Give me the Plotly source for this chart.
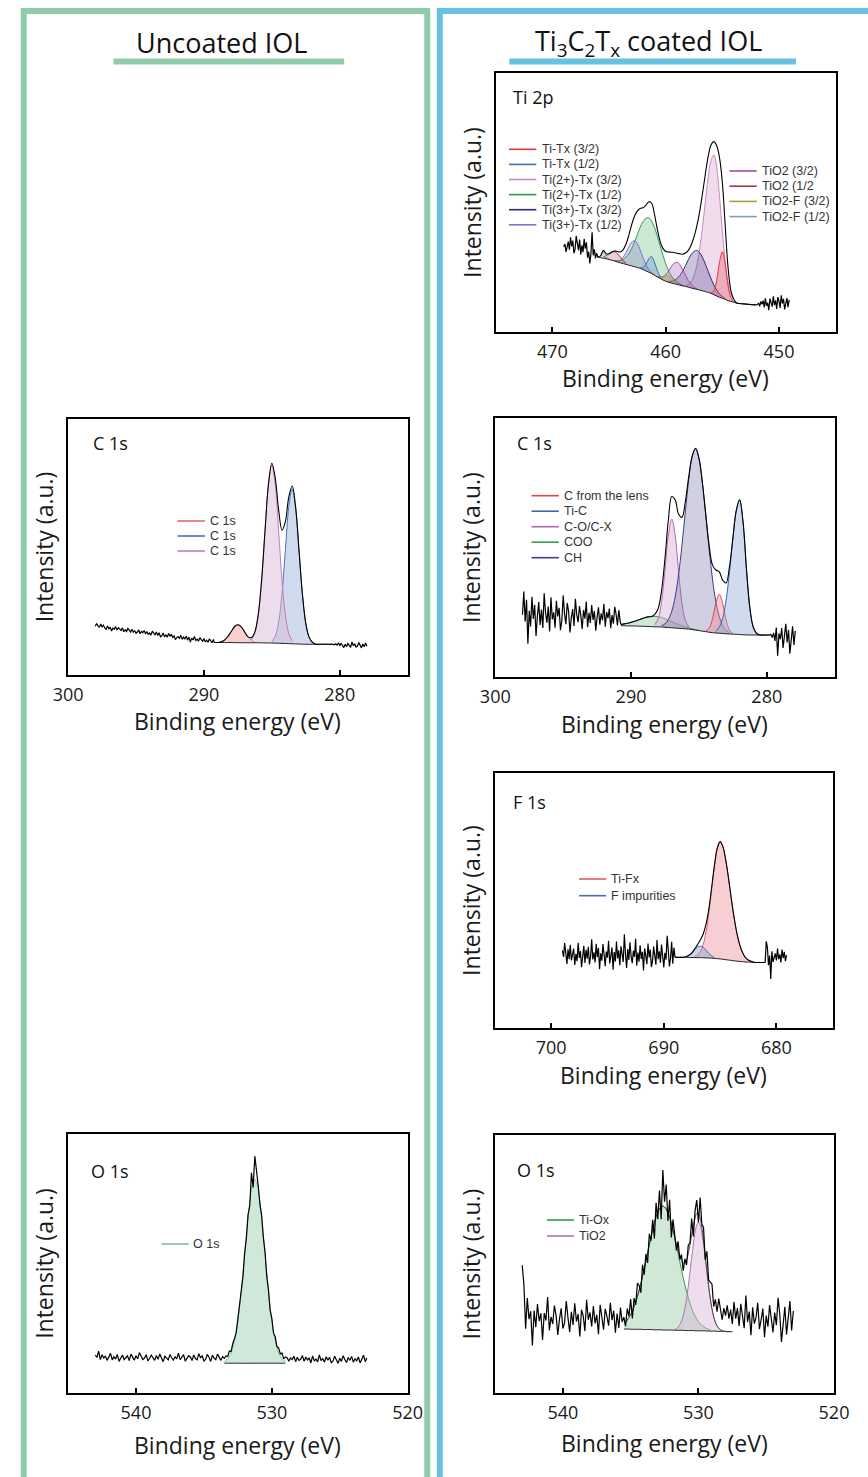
import numpy as np
import plotly.graph_objects as go

W, H = 868, 1477
FONT = "Open Sans"
LFONT = "Liberation Sans"

# =====================  DATA  =====================
# ---------- Ti 2p (Ti3C2Tx coated IOL) ----------
ti2p_fit_start, ti2p_fit_step = 452.0, 0.25
ti2p_background = [10.5, 10.5, 10.6, 10.7, 10.8, 10.9, 11.0, 11.2, 11.5, 11.8, 12.1, 12.6, 13.0,
                   13.4, 13.9, 14.4, 14.9, 15.3, 15.6, 15.9, 16.2, 16.5, 16.7, 17.0, 17.3,
                   17.6, 17.8, 18.1, 18.4, 18.6, 18.9, 19.2, 19.6, 20.1, 20.7, 21.3, 21.9,
                   22.6, 23.1, 23.6, 24.1, 24.6, 24.9, 25.2, 25.5, 25.8, 26.1, 26.4, 26.7,
                   27.0, 27.4, 27.7, 28.0, 28.3, 28.5, 28.7, 28.9]
# (label, first binding energy, heights above background)
ti2p_components = [
    ("Ti(2+)-Tx (3/2)", 454.0, [1.0, 2.9, 7.1, 14.7, 26.0, 39.0, 49.8, 54, 51.4, 44.4, 34.8, 24.7,
                                15.9, 9.3, 5.0, 2.4, 1.0, 0.4]),
    ("Ti(2+)-Tx (1/2)", 458.5, [0.2, 0.5, 0.9, 1.7, 2.8, 4.5, 6.8, 9.6, 12.7, 15.9, 18.5, 20.3, 21,
                                20.3, 18.5, 15.9, 12.7, 9.6, 6.8, 4.5, 2.8, 1.7, 0.9, 0.5, 0.2]),
    ("Ti(3+)-Tx (3/2)", 454.75, [0.3, 0.7, 1.3, 2.3, 3.7, 5.7, 8.1, 10.6, 12.9, 14.4, 15, 14.4, 12.9,
                                 10.6, 8.1, 5.7, 3.7, 2.3, 1.3, 0.7, 0.3]),
    ("Ti(3+)-Tx (1/2)", 461.0, [0.1, 0.4, 1.1, 2.5, 4.6, 7.1, 9.2, 10, 9.2, 7.1, 4.6, 2.5, 1.1, 0.4, 0.1]),
    ("TiO2 (3/2)", 457.25, [0.2, 0.6, 1.3, 2.6, 4.4, 6.3, 7.9, 8.5, 7.9, 6.3, 4.4, 2.6, 1.3, 0.6, 0.2]),
    ("Ti-Tx (3/2)", 454.0, [0.2, 1.4, 5.9, 13.6, 18, 13.6, 5.9, 1.4, 0.2]),
    ("Ti-Tx (1/2)", 460.25, [0.1, 0.8, 2.5, 5.1, 6.5, 5.1, 2.5, 0.8, 0.1]),
    ("TiO2 (1/2", 463.5, [0.5, 1.2, 2.2, 3.2, 3.6, 3.2, 2.2, 1.2, 0.5]),
    ("TiO2-F (3/2)", 459.0, [0.3, 1.2, 2.1, 2.5, 2.1, 1.2, 0.3]),
    ("TiO2-F (1/2)", 465.0, [0.0, 0.7, 2.5, 0.7, 0.0]),
]
ti2p_noise_step = 0.1
ti2p_left_start = 466.1
ti2p_left_noise = [30.5, 28.4, 31.9, 29.6, 38.5, 30.2, 26.5, 31.0, 28.7, 34.6, 32.2, 36.0, 30.8, 33.5,
                   29.9, 35.7, 31.6, 34.2, 37.1, 32.0, 30.4, 35.3, 33.1, 36.6, 31.8, 34.9, 32.6, 30.9,
                   34.0, 32.8]
ti2p_right_start = 449.1
ti2p_right_noise = [12.4, 9.6, 13.1, 10.2, 8.7, 12.8, 11.0, 14.2, 9.3, 11.9, 13.5, 8.9, 12.2, 10.4,
                    13.8, 9.8, 11.6, 12.9, 8.4, 11.3, 10.1, 13.0, 9.5, 12.1, 10.7, 11.8, 9.9, 11.2, 10.6]

# ---------- C 1s (uncoated IOL) ----------
c1u_fit_start, c1u_fit_step = 280.5, 0.25
c1u_background = [12.0, 12.0, 12.0, 12.0, 12.0, 12.0, 12.0, 12.0, 12.0, 12.05, 12.1, 12.15, 12.2,
                  12.25, 12.3, 12.35, 12.4, 12.45, 12.5, 12.5, 12.55, 12.55, 12.6, 12.6, 12.6, 12.6,
                  12.6, 12.6, 12.65, 12.65, 12.7, 12.7, 12.7, 12.7, 12.7, 12.7]
c1u_components = [
    ("C 1s", 286.25, [0.3, 0.9, 2.3, 4.2, 6.2, 7, 6.2, 4.2, 2.3, 0.9, 0.3]),
    ("C 1s", 282.0, [0.7, 2.7, 8.2, 19.6, 36.7, 53.4, 60.5, 53.4, 36.7, 19.6, 8.2, 2.7, 0.7]),
    ("C 1s", 283.5, [1.1, 3.9, 11.0, 24.6, 43.9, 61.9, 69.5, 61.9, 43.9, 24.6, 11.0, 3.9, 1.1]),
]
c1u_noise_step = 0.1
c1u_left_start = 289.3
c1u_left_noise = [13.9, 12.6, 13.4, 14.1, 12.8, 13.6, 12.9, 14.3, 13.1, 13.8,
                  14.6, 13.2, 14.0, 13.5, 15.1, 13.7, 14.4, 12.9, 14.8, 13.6,
                  15.2, 14.1, 14.8, 13.9, 15.5, 14.3, 15.0, 14.6, 13.8, 15.3,
                  14.7, 15.9, 15.1, 16.2, 14.8, 15.6, 15.0, 16.4, 15.3, 14.9,
                  16.5, 15.4, 16.8, 15.7, 16.2, 17.1, 15.6, 16.4, 15.9, 16.9,
                  16.2, 17.4, 16.5, 17.0, 16.1, 17.6, 16.8, 16.3, 17.3, 16.7,
                  17.9, 16.8, 17.5, 18.2, 17.0, 17.7, 16.9, 18.4, 17.4, 17.8,
                  18.5, 17.6, 18.9, 17.9, 18.3, 17.2, 18.7, 18.0, 19.2, 17.8,
                  18.4, 19.5, 18.8, 19.9, 18.6, 19.3, 20.1, 19.0]
c1u_right_start = 278.0
c1u_right_noise = [11.2, 12.5, 11.0, 12.1, 10.6, 11.8, 12.7, 11.3, 10.9, 12.2, 11.5, 12.9, 10.8,
                   11.6, 12.3, 11.1, 12.0, 10.7, 11.9, 12.4, 11.4, 12.6, 11.7, 12.2, 11.8]

# ---------- C 1s (coated IOL) ----------
c1c_fit_start, c1c_fit_step = 279.75, 0.25
c1c_background = [16.2, 16.2, 16.2, 16.2, 16.2, 16.2, 16.2, 16.25, 16.3, 16.4, 16.5, 16.55, 16.6,
                  16.7, 16.8, 16.9, 17.0, 17.1, 17.3, 17.5, 17.7, 17.9, 18.1, 18.3, 18.5, 18.6,
                  18.7, 18.8, 18.9, 19.0, 19.1, 19.2, 19.3, 19.35, 19.4, 19.45, 19.5, 19.55,
                  19.6, 19.65, 19.7, 19.7, 19.75, 19.8, 19.8]
c1c_components = [
    ("COO", 285.0, [0.1, 0.2, 0.3, 0.5, 0.7, 1.0, 1.4, 1.8, 2.3, 2.8, 3.3, 3.7, 3.9, 4.0, 3.9, 3.7,
                    3.3, 2.8, 2.3, 1.8, 1.4, 1.0, 0.7, 0.5]),
    ("C-O/C-X", 285.75, [0.8, 3.2, 9.8, 22.0, 35.7, 42, 35.7, 22.0, 9.8, 3.2, 0.8]),
    ("CH", 282.75, [0.6, 1.3, 3.1, 6.4, 12.0, 20.7, 32.1, 45.2, 57.6, 66.6, 70, 66.6, 57.6, 45.2,
                    32.1, 20.7, 12.0, 6.4, 3.1, 1.3, 0.6]),
    ("C from the lens", 282.5, [0.3, 1.5, 5.4, 11.6, 15, 11.6, 5.4, 1.5, 0.3]),
    ("Ti-C", 280.75, [0.6, 3.1, 10.6, 25.6, 43.6, 52, 47.7, 36.7, 23.8, 12.9, 5.9, 2.3, 0.7]),
]
c1c_noise_step = 0.1
c1c_left_start = 290.8
c1c_left_noise = [21.5, 25.8, 19.9, 24.2, 27.1, 20.6, 23.9, 18.8, 26.4, 22.7,
                  25.1, 19.4, 28.3, 21.9, 24.6, 20.2, 26.9, 23.1, 17.9, 25.5,
                  22.0, 27.8, 20.9, 24.8, 19.2, 29.1, 22.5, 25.9, 18.5, 23.7,
                  27.4, 21.2, 24.1, 30.2, 19.7, 26.2, 22.9, 17.2, 25.3, 28.6,
                  20.4, 24.5, 31.5, 21.6, 18.1, 26.7, 23.4, 29.4, 19.0, 25.0,
                  22.2, 30.8, 17.6, 27.2, 21.0, 24.9, 32.3, 18.9, 26.0, 20.1,
                  28.9, 23.6, 15.8, 27.9, 22.4, 31.0, 19.5, 25.6, 12.8, 29.8,
                  21.4, 33.0, 24.0]
c1c_right_start = 277.9
c1c_right_noise = [17.8, 12.4, 19.6, 14.1, 9.0, 18.2, 13.3, 20.5, 15.0, 11.2, 18.9, 14.6, 16.8,
                   8.2, 19.1, 13.9, 17.0, 15.2, 16.4]

# ---------- F 1s (coated IOL) ----------
f1s_fit_start, f1s_fit_step = 681.0, 0.25
f1s_background = [25.7, 25.7, 25.7, 25.7, 25.75, 25.8, 25.85, 25.9, 26.0, 26.1, 26.2, 26.35, 26.5,
                  26.65, 26.8, 26.95, 27.1, 27.2, 27.3, 27.4, 27.45, 27.5, 27.55, 27.6, 27.6,
                  27.65, 27.65, 27.7, 27.7, 27.7, 27.7, 27.7, 27.7]
f1s_components = [
    ("Ti-Fx", 682.25, [0.4, 0.8, 1.7, 3.5, 6.4, 10.8, 16.8, 24.1, 32.0, 39.1, 44.2, 46, 43.3, 36.2,
                       26.8, 17.5, 10.2, 5.2, 2.4, 1.0, 0.4]),
    ("F impurities", 685.5, [0.3, 0.9, 1.8, 3.0, 4.1, 4.5, 4.1, 3.0, 1.8, 0.9, 0.3]),
]
f1s_noise_step = 0.1
f1s_left_start = 689.1
f1s_left_noise = [31.5, 25.2, 33.8, 27.4, 24.1, 30.6, 36.2, 26.8, 29.5, 23.7,
                  28.9, 32.7, 25.6, 30.1, 27.0, 34.5, 24.8, 29.2, 31.9, 26.3,
                  23.9, 30.8, 27.7, 33.1, 25.0, 28.4, 31.2, 22.6, 29.9, 27.1,
                  32.4, 26.0, 29.6, 24.4, 35.0, 27.9, 30.3, 25.4, 28.1, 33.6,
                  26.7, 31.0, 23.5, 29.0, 36.8, 25.9, 28.6, 32.0, 24.6, 30.5,
                  27.3, 33.9, 26.1, 29.8, 22.9, 31.6, 28.2, 25.3, 34.2, 27.6,
                  30.0, 24.2, 28.8, 32.9, 26.4, 29.3, 23.1, 31.4, 27.8, 33.0,
                  25.7, 29.7, 26.9, 34.8, 28.0, 24.9, 31.8, 27.2, 30.7, 25.5,
                  32.2, 28.5, 23.8, 30.2, 27.5, 33.4, 26.2, 29.1, 24.7, 31.1,
                  28.3, 26.5, 32.6, 27.0, 30.9, 25.1, 29.4, 33.3, 27.9, 30.4]
f1s_right_start = 679.1
f1s_right_noise = [28.6, 26.2, 29.9, 27.4, 30.8, 25.7, 28.9, 27.0, 31.2, 26.5, 29.3, 27.8, 25.9,
                   30.1, 19.2, 28.4, 24.6, 31.5, 34.0]

# ---------- O 1s (uncoated IOL) ----------
o1u_fit_start, o1u_fit_step = 529.0, 0.125
o1u_background = [11.5, 11.5, 11.5, 11.5, 11.5, 11.5, 11.5, 11.5, 11.5, 11.5, 11.5, 11.5, 11.5,
                  11.5, 11.5, 11.5, 11.5, 11.5, 11.5, 11.5, 11.5, 11.5, 11.5, 11.5, 11.5, 11.5,
                  11.5, 11.5, 11.5, 11.5, 11.5, 11.5, 11.5, 11.5, 11.5, 11.5, 11.5]
o1u_components = [
    ("O 1s", 529.0, [0.6, 1.1, 1.7, 2.6, 4.0, 6.0, 8.7, 12.1, 16.5, 21.7, 27.8, 34.6, 41.9, 49.2,
                     56.2, 62.3, 67.0, 69.9, 71, 69.9, 67.0, 62.3, 56.2, 49.2, 41.9, 34.6, 27.8,
                     21.7, 16.5, 12.1, 8.7, 6.0, 4.0, 2.6, 1.7, 1.1, 0.6]),
]
o1u_residuals = [1.8, 0.6, 2.2, 1.0, 1.9, 0.4, 1.5, -0.5, 0.8, -1.2, 0.6, -0.8, 1.1, -0.6, 0.9,
                 -1.0, 1.4, 4.5, 9.0, -2.0, 6.5, -1.5, 1.2, -0.9, 0.7, -1.1, 0.5, -0.7, 1.0, -0.4,
                 0.8, 1.6, 0.5, 2.1, 0.9, 1.7, 1.3]
o1u_noise_step = 0.125
o1u_left_start = 533.625
o1u_left_noise = [14.1, 12.6, 13.9, 15.0, 12.9, 13.5, 14.6, 12.2, 13.8, 14.9,
                  13.0, 12.4, 14.3, 13.6, 15.2, 12.8, 13.3, 14.7, 12.5, 13.9,
                  14.4, 13.1, 12.3, 14.8, 13.7, 12.9, 15.4, 13.2, 14.0, 12.7,
                  13.6, 14.9, 12.8, 13.4, 14.2, 12.1, 13.8, 15.1, 13.0, 14.5,
                  12.6, 13.9, 14.6, 13.3, 12.4, 14.8, 13.5, 12.9, 14.1, 15.6,
                  13.2, 14.4, 12.7, 13.8, 15.0, 12.5, 14.3, 13.6, 12.9, 14.7,
                  13.4, 12.2, 14.9, 13.1, 14.0, 12.8, 15.3, 13.7, 12.6, 14.2,
                  13.5, 14.8, 12.9, 16.2, 13.8, 14.6]
o1u_right_start = 523.0
o1u_right_noise = [13.5, 12.1, 14.6, 12.8, 11.6, 13.9, 12.4, 13.2, 11.9, 14.1,
                   12.6, 13.7, 11.8, 12.9, 14.4, 12.2, 13.4, 11.5, 13.0, 14.2,
                   12.3, 11.7, 13.8, 12.7, 14.0, 11.9, 13.3, 12.5, 14.7, 12.0,
                   13.1, 12.4, 14.3, 11.6, 13.6, 12.8, 13.9, 12.2, 14.5, 13.0,
                   12.6, 13.8, 12.1, 14.2, 12.9, 13.5, 12.3, 13.6]

# ---------- O 1s (coated IOL) ----------
o1c_fit_start, o1c_fit_step = 527.5, 0.125
o1c_background = [23.8, 23.8, 23.8, 23.8, 23.9, 23.9, 23.9, 23.9, 23.9, 23.9, 24.0, 24.0, 24.0,
                  24.0, 24.0, 24.0, 24.1, 24.1, 24.1, 24.1, 24.1, 24.1, 24.1, 24.2, 24.2, 24.2,
                  24.2, 24.2, 24.2, 24.3, 24.3, 24.3, 24.3, 24.3, 24.3, 24.4, 24.4, 24.4, 24.4,
                  24.4, 24.4, 24.4, 24.5, 24.5, 24.5, 24.5, 24.5, 24.5, 24.6, 24.6, 24.6, 24.6,
                  24.6, 24.6, 24.7, 24.7, 24.7, 24.7, 24.7, 24.7, 24.7, 24.8, 24.8, 24.8, 24.8]
o1c_components = [
    ("Ti-Ox", 529.125, [0.5, 0.7, 0.9, 1.2, 1.6, 2.1, 2.7, 3.5, 4.5, 5.7, 7.0, 8.7, 10.5, 12.7, 15.1,
                        17.7, 20.5, 23.5, 26.6, 29.7, 32.9, 35.9, 38.8, 41.4, 43.7, 45.5, 46.9,
                        47.7, 48, 47.7, 46.9, 45.5, 43.7, 41.4, 38.8, 35.9, 32.9, 29.7, 26.6, 23.5,
                        20.5, 17.7, 15.1, 12.7, 10.5, 8.7, 7.0, 5.7, 4.5, 3.5, 2.7, 2.1]),
    ("TiO2", 528.25, [0.3, 0.6, 1.2, 2.1, 3.5, 5.6, 8.6, 12.3, 17.1, 22.5, 28.2, 33.6, 38.0, 41.0,
                      42, 41.0, 38.0, 33.6, 28.2, 22.5, 17.1, 12.3, 8.6, 5.6, 3.5, 2.1, 1.2, 0.6, 0.3]),
]
o1c_residuals = [3.0, 8.5, 5.0, 10.2, 6.1, 9.0, 4.2, 7.8, 11.5, 5.5, 8.8, 3.9, 9.6,
                 6.2, 2.1, 7.5, -1.8, 4.9, 1.2, 8.0, -3.5, 5.2, 2.8, -4.1, 6.5, 0.9, 3.3,
                 -2.0, 1.5, -3.0, 2.4, -1.2, 3.6, -2.5, 1.8,
                 4.0, -5.5, 6.8, -3.2, 9.5, 2.0, 14.0, -4.8, 7.1, -2.6, 5.5, -6.0, 3.8, -1.5, 4.2, -3.9,
                 2.7, -2.2, 4.6, -3.5, 1.9, 5.2, -1.0, 3.4, -2.8, 6.0, 0.5, 4.4, -1.6, 2.5]
o1c_noise_step = 0.125
o1c_left_start = 535.625
o1c_left_noise = [27.5, 33.1, 25.2, 30.8, 23.4, 31.9, 28.2, 35.0, 26.1, 29.7,
                  32.6, 24.5, 28.9, 34.2, 22.8, 30.3, 27.0, 33.7, 25.8, 31.2,
                  28.4, 36.1, 24.0, 29.9, 32.3, 21.9, 30.6, 27.7, 34.8, 26.4,
                  31.5, 23.6, 29.2, 35.6, 27.3, 25.0, 32.8, 28.7, 22.5, 30.0,
                  33.9, 26.8, 29.5, 24.3, 37.2, 28.1, 31.0, 20.6, 30.9, 27.9,
                  34.5, 25.5, 32.0, 18.4, 31.7, 28.6, 36.8, 24.9, 42.0, 49.5]
o1c_right_start = 523.0
o1c_right_noise = [31.8, 24.2, 35.6, 28.0, 22.7, 33.4, 27.1, 19.8, 30.5, 36.9,
                   26.3, 31.2, 23.5, 29.8, 34.1, 25.7, 30.0, 21.6, 32.7, 28.4,
                   24.8, 35.0, 29.3, 26.9, 33.2, 22.4, 31.6, 27.5, 37.8, 25.1,
                   30.7, 34.6, 26.0, 32.9, 28.8, 35.3]

# =====================  STYLE  =====================
STY_TI = {
    "Ti-Tx (3/2)": ("#E8343E", "rgba(235,85,95,0.35)"),
    "Ti-Tx (1/2)": ("#3E6EC2", "rgba(85,125,205,0.30)"),
    "Ti(2+)-Tx (3/2)": ("#CC86C0", "rgba(222,178,215,0.45)"),
    "Ti(2+)-Tx (1/2)": ("#2F9A50", "rgba(120,195,145,0.38)"),
    "Ti(3+)-Tx (3/2)": ("#2E2C78", "rgba(75,65,135,0.30)"),
    "Ti(3+)-Tx (1/2)": ("#7C72C8", "rgba(130,120,200,0.30)"),
    "TiO2 (3/2)": ("#A24BA6", "rgba(170,90,175,0.30)"),
    "TiO2 (1/2": ("#A53B3B", "rgba(170,70,70,0.25)"),
    "TiO2-F (3/2)": ("#A8A040", "rgba(170,165,70,0.30)"),
    "TiO2-F (1/2)": ("#7E9FC6", "rgba(130,160,200,0.30)"),
}
STY_C1U = [("#E06A6A", "rgba(240,150,150,0.45)"),
           ("#4A6FBF", "rgba(150,175,215,0.45)"),
           ("#C47AB8", "rgba(220,185,215,0.50)")]
STY_C1C = {
    "COO": ("#2E9E4F", "rgba(150,205,165,0.45)"),
    "C-O/C-X": ("#B266B5", "rgba(215,175,215,0.45)"),
    "CH": ("#3D3D8F", "rgba(120,120,165,0.35)"),
    "C from the lens": ("#E8404E", "rgba(240,130,140,0.40)"),
    "Ti-C": ("#3F63B0", "rgba(150,175,215,0.45)"),
}
STY_F = {"Ti-Fx": ("#E2586A", "rgba(240,160,165,0.50)"),
         "F impurities": ("#4A6BB5", "rgba(140,160,210,0.45)")}
STY_O1U = [("#7CC49A", "rgba(150,205,170,0.45)")]
STY_O1C = {"Ti-Ox": ("#2E9B4E", "rgba(150,205,165,0.45)"),
           "TiO2": ("#B86FB8", "rgba(215,180,215,0.45)")}
NOISE_W = 1.2

fig = go.Figure()


def ax_ids(n):
    return ("x" if n == 1 else f"x{n}", "y" if n == 1 else f"y{n}")


def grid(start, step, n):
    return np.round(start + step * np.arange(n), 4)


def draw_fit(n, start, step, bg, comps, styles):
    xa, ya = ax_ids(n)
    bg = np.asarray(bg, float)
    x = grid(start, step, len(bg))
    env = bg.copy()
    for k, (name, c0, vals) in enumerate(comps):
        lc, fc = styles[name] if isinstance(styles, dict) else styles[k]
        vals = np.asarray(vals, float)
        i0 = int(round((c0 - start) / step))
        sl = slice(i0, i0 + len(vals))
        env[sl] += vals
        fig.add_trace(go.Scatter(x=x[sl], y=bg[sl], mode="lines", xaxis=xa, yaxis=ya,
                                 line=dict(width=0, shape="spline"), showlegend=False,
                                 hoverinfo="skip"))
        fig.add_trace(go.Scatter(x=x[sl], y=bg[sl] + vals, mode="lines", fill="tonexty",
                                 fillcolor=fc, xaxis=xa, yaxis=ya, name=name,
                                 line=dict(color=lc, width=1, shape="spline"), showlegend=False))
    fig.add_trace(go.Scatter(x=x, y=bg, mode="lines", xaxis=xa, yaxis=ya, showlegend=False,
                             line=dict(color="#222", width=1, shape="spline"), name="background"))
    return x, env


def draw_line(n, x, y, width=NOISE_W, shape="linear", color="black"):
    xa, ya = ax_ids(n)
    fig.add_trace(go.Scatter(x=x, y=y, mode="lines", xaxis=xa, yaxis=ya, showlegend=False,
                             line=dict(color=color, width=width, shape=shape)))


def noisy_sides(n, x, env, step, lstart, lvals, rstart, rvals):
    lx = grid(lstart, step, len(lvals))
    rx = grid(rstart, step, len(rvals))
    draw_line(n, np.r_[x[-1], lx], np.r_[env[-1], lvals])
    draw_line(n, np.r_[rx, x[0]], np.r_[rvals, env[0]])


# ---- panel 1: Ti 2p
x, env = draw_fit(1, ti2p_fit_start, ti2p_fit_step, ti2p_background, ti2p_components, STY_TI)
draw_line(1, x, env, 1.1, "spline")
noisy_sides(1, x, env, ti2p_noise_step, ti2p_left_start, ti2p_left_noise,
            ti2p_right_start, ti2p_right_noise)

# ---- panel 2: C 1s uncoated
x, env = draw_fit(2, c1u_fit_start, c1u_fit_step, c1u_background, c1u_components, STY_C1U)
draw_line(2, x, env, 1.1, "spline")
noisy_sides(2, x, env, c1u_noise_step, c1u_left_start, c1u_left_noise,
            c1u_right_start, c1u_right_noise)

# ---- panel 3: C 1s coated
x, env = draw_fit(3, c1c_fit_start, c1c_fit_step, c1c_background, c1c_components, STY_C1C)
draw_line(3, x, env, 1.1, "spline")
noisy_sides(3, x, env, c1c_noise_step, c1c_left_start, c1c_left_noise,
            c1c_right_start, c1c_right_noise)

# ---- panel 4: F 1s
x, env = draw_fit(4, f1s_fit_start, f1s_fit_step, f1s_background, f1s_components, STY_F)
draw_line(4, x, env, 1.1, "spline")
noisy_sides(4, x, env, f1s_noise_step, f1s_left_start, f1s_left_noise,
            f1s_right_start, f1s_right_noise)

# ---- panel 5: O 1s uncoated (raw data drawn across the peak)
x, env = draw_fit(5, o1u_fit_start, o1u_fit_step, o1u_background, o1u_components, STY_O1U)
lx = grid(o1u_left_start, o1u_noise_step, len(o1u_left_noise))
rx = grid(o1u_right_start, o1u_noise_step, len(o1u_right_noise))
draw_line(5, np.r_[rx, x, lx], np.r_[o1u_right_noise, env + np.asarray(o1u_residuals), o1u_left_noise])

# ---- panel 6: O 1s coated
x, env = draw_fit(6, o1c_fit_start, o1c_fit_step, o1c_background, o1c_components, STY_O1C)
draw_line(6, x, env, 0.8, "spline", "#333")
lx = grid(o1c_left_start, o1c_noise_step, len(o1c_left_noise))
rx = grid(o1c_right_start, o1c_noise_step, len(o1c_right_noise))
draw_line(6, np.r_[rx, x, lx], np.r_[o1c_right_noise, env + np.asarray(o1c_residuals), o1c_left_noise])

# =====================  LAYOUT  =====================
PANELS = [  # id, box in px (x0, x1, y0, y1), x range (high, low), x-title centre y
    (1, (498, 850, 73, 332), (475, 445), 378),
    (2, (55, 406.7, 419, 675), (300, 275), 721),
    (3, (497.5, 849, 418, 677), (300, 275), 724),
    (4, (497, 847, 773, 1028), (705, 675), 1075),
    (5, (55, 406.7, 1134, 1393), (545, 520), 1445),
    (6, (497.3, 848.3, 1135, 1393), (545, 520), 1443),
]


def px(xp):
    return xp / W


def py(yp):
    return 1 - yp / H


layout = dict(width=W, height=H, margin=dict(l=0, r=0, t=0, b=0), autosize=False,
              paper_bgcolor="white", plot_bgcolor="white", showlegend=False)
shapes = []
annotations = []
for pid, (x0, x1, y0, y1), (hi, lo), ty in PANELS:
    s = "" if pid == 1 else str(pid)
    layout["xaxis" + s] = dict(
        domain=[x0 / W, x1 / W], range=[hi, lo], anchor="y" + s, showline=True, mirror=True,
        linecolor="black", linewidth=2, ticks="inside", ticklen=5, tickwidth=1.5,
        tickcolor="black", tick0=0, dtick=10, showgrid=False, zeroline=False,
        tickfont=dict(family=FONT, size=18, color="#1a1a1a"), ticklabelstandoff=2)
    layout["yaxis" + s] = dict(
        domain=[1 - y1 / H, 1 - y0 / H], range=[0, 100], anchor="x" + s, showline=True,
        mirror=True, linecolor="black", linewidth=2, ticks="", showticklabels=False,
        showgrid=False, zeroline=False,
        title=dict(text="Intensity (a.u.)", font=dict(family=FONT, size=23, color="#1a1a1a"),
                   standoff=6))
    annotations.append(dict(text="Binding energy (eV)", x=px((x0 + x1) / 2), y=py(ty),
                            xref="paper", yref="paper", showarrow=False, xanchor="center",
                            yanchor="middle", font=dict(family=FONT, size=23, color="#1a1a1a")))

# outer frames (the blue frame's right side lies outside the picture)
GREEN, BLUE = "#90CBAA", "#67C2E2"
shapes.append(dict(type="path", xref="paper", yref="paper",
                   path=f"M {px(9)},{py(1500)} L {px(9)},{py(11)} L {px(427)},{py(11)} L {px(427)},{py(1500)}",
                   line=dict(color=GREEN, width=6)))
shapes.append(dict(type="path", xref="paper", yref="paper",
                   path=f"M {px(440)},{py(1500)} L {px(440)},{py(11)} L {px(890)},{py(11)}",
                   line=dict(color=BLUE, width=6)))
shapes.append(dict(type="line", xref="paper", yref="paper", x0=px(102), x1=px(341),
                   y0=py(61.5), y1=py(61.5), line=dict(color=GREEN, width=6)))
shapes.append(dict(type="line", xref="paper", yref="paper", x0=px(512), x1=px(809),
                   y0=py(61.5), y1=py(61.5), line=dict(color=BLUE, width=6)))
annotations.append(dict(text="Uncoated IOL", x=px(214), y=py(43), xref="paper", yref="paper",
                        showarrow=False, xanchor="center", yanchor="middle",
                        font=dict(family=FONT, size=27, color="#111")))
annotations.append(dict(text="Ti<sub>3</sub>C<sub>2</sub>T<sub>x</sub> coated IOL", x=px(656),
                        y=py(43), xref="paper", yref="paper", showarrow=False,
                        xanchor="center", yanchor="middle",
                        font=dict(family=FONT, size=27, color="#111")))

# panel labels
for txt, xx, yy in [("Ti 2p", 513.3, 96.7), ("C 1s", 78.3, 443), ("C 1s", 518.3, 443),
                    ("F 1s", 513.3, 801.7), ("O 1s", 76.7, 1170.7), ("O 1s", 517.7, 1170)]:
    annotations.append(dict(text=txt, x=px(xx), y=py(yy), xref="paper", yref="paper",
                            showarrow=False, xanchor="left", yanchor="middle",
                            font=dict(family=FONT, size=18, color="#111")))

# legends (line sample + label)
LEGENDS = [
    (511.7, 540, 543.3, 149.3, 15.1,
     [(n, STY_TI[n][0]) for n in ["Ti-Tx (3/2)", "Ti-Tx (1/2)", "Ti(2+)-Tx (3/2)",
                                  "Ti(2+)-Tx (1/2)", "Ti(3+)-Tx (3/2)", "Ti(3+)-Tx (1/2)"]]),
    (740, 768.3, 771.7, 171, 15.2,
     [(n, STY_TI[n][0]) for n in ["TiO2 (3/2)", "TiO2 (1/2", "TiO2-F (3/2)", "TiO2-F (1/2)"]]),
    (168.3, 196.7, 200, 521, 15, [("C 1s", STY_C1U[0][0]), ("C 1s", STY_C1U[1][0]),
                                  ("C 1s", STY_C1U[2][0])]),
    (535, 563.3, 566.7, 495.7, 15.5,
     [(n, STY_C1C[n][0]) for n in ["C from the lens", "Ti-C", "C-O/C-X", "COO", "CH"]]),
    (584.3, 612.3, 615, 879, 16.7, [(n, STY_F[n][0]) for n in ["Ti-Fx", "F impurities"]]),
    (151.7, 180, 182.7, 1244, 15, [("O 1s", STY_O1U[0][0])]),
    (551, 579, 582.3, 1220, 16, [(n, STY_O1C[n][0]) for n in ["Ti-Ox", "TiO2"]]),
]
for lx0, lx1, tx, y0, dy, entries in LEGENDS:
    for k, (lab, c) in enumerate(entries):
        yy = y0 + k * dy
        shapes.append(dict(type="line", xref="paper", yref="paper", x0=px(lx0), x1=px(lx1),
                           y0=py(yy), y1=py(yy), line=dict(color=c, width=1.6)))
        annotations.append(dict(text=lab, x=px(tx), y=py(yy), xref="paper", yref="paper",
                                showarrow=False, xanchor="left", yanchor="middle",
                                font=dict(family=LFONT, size=12.5, color="#333")))

layout["shapes"] = shapes
layout["annotations"] = annotations
fig.update_layout(**layout)

# keep the page exactly the size of the figure (no default body margin / scrollbars)
PAGE_FIX = ("document.documentElement.style.margin='0';document.body.style.margin='0';"
            "document.body.style.padding='0';document.documentElement.style.overflow='hidden';"
            "document.body.style.overflow='hidden';")
fig.write_html("out.html", post_script=PAGE_FIX)
